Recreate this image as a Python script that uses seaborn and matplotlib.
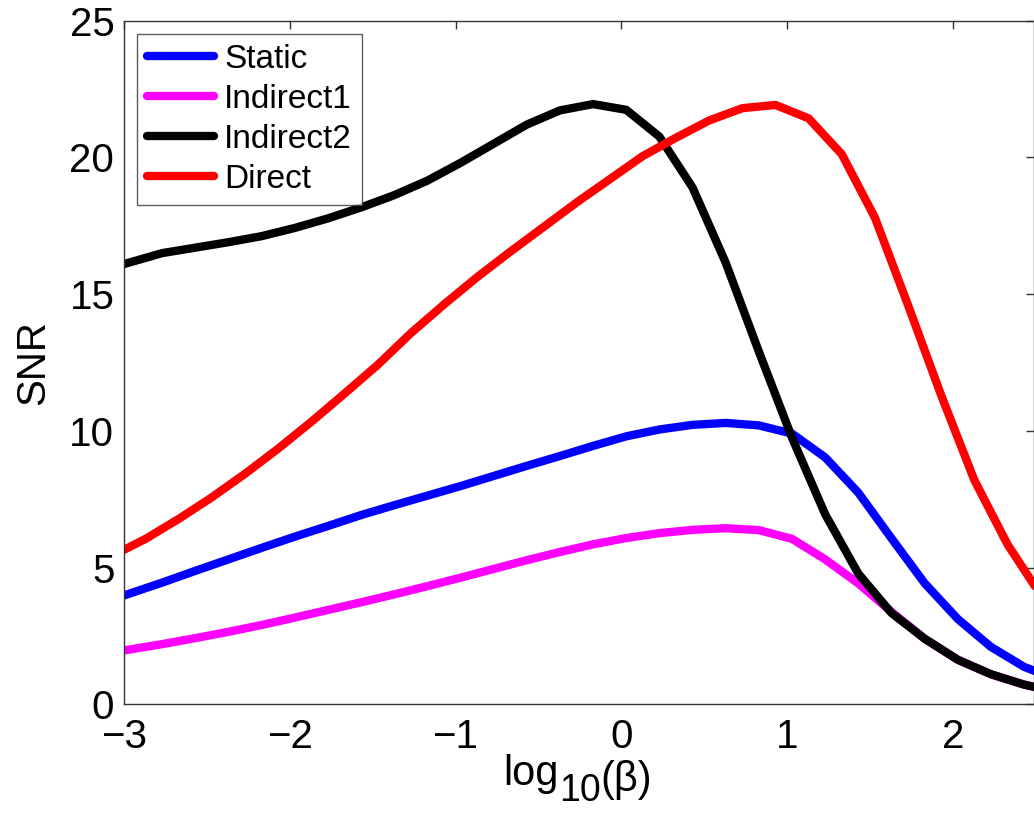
"""
SNR versus log10(beta) for the four schemes
"""
import numpy as np
import pandas as pd
import matplotlib
matplotlib.use("Agg")
import matplotlib.pyplot as plt
import seaborn as sns

# x grid of the Static / Indirect curves and of the Direct curve
x_a = [-3.0, -2.77, -2.57, -2.37, -2.17, -1.97, -1.77, -1.57, -1.37, -1.17,
       -0.97, -0.77, -0.57, -0.37, -0.17, 0.03, 0.23, 0.43, 0.63, 0.83,
       1.03, 1.23, 1.43, 1.63, 1.83, 2.03, 2.23, 2.43, 2.63]
x_r = [-3.0, -2.87, -2.67, -2.47, -2.27, -2.07, -1.87, -1.67, -1.47, -1.27,
       -1.07, -0.87, -0.67, -0.47, -0.27, -0.07, 0.13, 0.33, 0.53, 0.73,
       0.93, 1.13, 1.33, 1.53, 1.73, 1.93, 2.13, 2.33, 2.53, 2.73]

snr_static = [3.98, 4.45, 4.88, 5.30, 5.72, 6.13, 6.52, 6.92, 7.28, 7.63,
              7.98, 8.35, 8.72, 9.08, 9.45, 9.80, 10.05, 10.22, 10.29, 10.20,
              9.90, 9.03, 7.74, 6.07, 4.43, 3.12, 2.10, 1.37, 0.90]
snr_indirect1 = [1.97, 2.20, 2.42, 2.65, 2.90, 3.17, 3.45, 3.73, 4.02, 4.32,
                 4.63, 4.95, 5.27, 5.57, 5.85, 6.08, 6.26, 6.38, 6.44, 6.37,
                 6.05, 5.30, 4.42, 3.38, 2.40, 1.63, 1.10, 0.72, 0.45]
snr_indirect2 = [16.10, 16.50, 16.70, 16.90, 17.12, 17.42, 17.77, 18.17, 18.62, 19.15,
                 19.80, 20.50, 21.20, 21.72, 21.95, 21.74, 20.76, 18.90, 16.15, 12.90,
                 9.75, 6.95, 4.78, 3.34, 2.40, 1.63, 1.10, 0.72, 0.45]
snr_direct = [5.65, 6.05, 6.78, 7.57, 8.43, 9.35, 10.33, 11.36, 12.41, 13.57,
              14.62, 15.62, 16.55, 17.45, 18.35, 19.20, 20.05, 20.72, 21.35, 21.80,
              21.92, 21.43, 20.12, 17.80, 14.60, 11.30, 8.20, 5.85, 4.00, 2.80]

methods = ["Static", "Indirect1", "Indirect2", "Direct"]
colors = ["#0000ff", "#ff00ff", "#000000", "#ff0000"]
x_ticks = [-3, -2, -1, 0, 1, 2]
y_ticks = [0, 5, 10, 15, 20, 25]

frames = []
for name, xs, ys in [("Static", x_a, snr_static), ("Indirect1", x_a, snr_indirect1),
                     ("Indirect2", x_a, snr_indirect2), ("Direct", x_r, snr_direct)]:
    frames.append(pd.DataFrame({"logbeta": xs, "snr": ys, "method": name}))
df = pd.concat(frames, ignore_index=True)

sns.set_theme(style="white")
plt.rcParams["font.family"] = ["Liberation Sans", "DejaVu Sans"]
plt.rcParams["text.color"] = "black"
plt.rcParams["axes.labelcolor"] = "black"
plt.rcParams["xtick.color"] = "black"
plt.rcParams["ytick.color"] = "black"

fig = plt.figure(figsize=(10.34, 8.16), dpi=100)
ax = fig.add_axes([124 / 1034, 1 - 704.3 / 816, 1 - 124 / 1034, 683.6 / 816])

sns.lineplot(data=df, x="logbeta", y="snr", hue="method", hue_order=methods,
             palette=colors, estimator=None, sort=True, linewidth=6, ax=ax)

ax.set_xlim(-3, 2.49)
ax.set_ylim(0, 25)
ax.set_xticks(x_ticks)
ax.set_xticklabels([str(t).replace("-", "\u2212") for t in x_ticks])
ax.set_yticks(y_ticks)
ax.tick_params(direction="in", length=6, width=1, color="#333333",
               labelcolor="black", labelsize=29, top=True, right=True, pad=7)
ax.tick_params(axis="x", pad=10)
for sp in ax.spines.values():
    sp.set_color("#333333")
    sp.set_linewidth(1)

ax.set_xlabel("")
ax.set_ylabel("SNR", fontsize=29, labelpad=12, color="black")

# x label: log, subscript 10, (beta)
t1 = fig.text(503 / 1034, 1 - 785 / 816, "log", fontsize=30, ha="left", va="baseline",
              color="black")
t2 = ax.annotate("10", xy=(1, 0), xycoords=t1, xytext=(0.5, -5), textcoords="offset points",
                 fontsize=27, ha="left", va="baseline", color="black")
ax.annotate("(\u03b2)", xy=(1, 0), xycoords=t2, xytext=(0, 13), textcoords="offset points",
            fontsize=30, ha="left", va="baseline", color="black")

leg = ax.legend(loc="upper left", fontsize=24, frameon=True, fancybox=False,
                edgecolor="#333333", handlelength=2.0, handletextpad=0.3,
                labelspacing=0.27, borderpad=0.3, borderaxespad=0.4)
leg.get_frame().set_linewidth(1)
for line in leg.get_lines():
    line.set_linewidth(6)
for txt in leg.get_texts():
    txt.set_color("black")

fig.savefig("out.png", dpi=100)
